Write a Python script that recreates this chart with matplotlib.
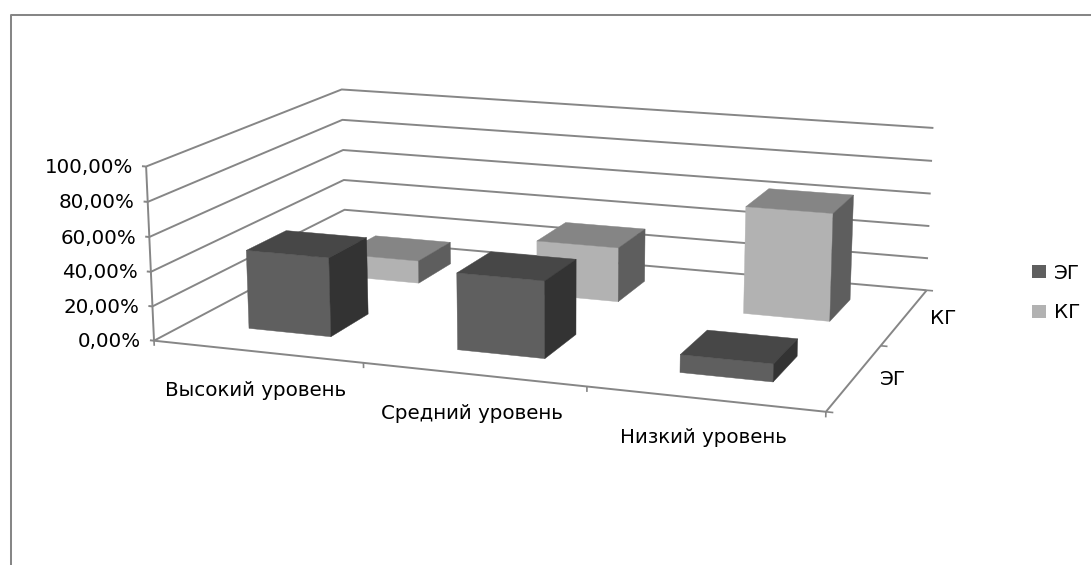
import matplotlib
matplotlib.use('Agg')
import matplotlib.pyplot as plt
import numpy as np
from matplotlib.patches import Patch

categories = ['Высокий уровень', 'Средний уровень', 'Низкий уровень']
series_names = ['ЭГ', 'КГ']
eg_values = [46, 44, 10]
kg_values = [14, 33, 64]
z_ticks = [0, 20, 40, 60, 80, 100]
z_labels = ['0,00%', '20,00%', '40,00%', '60,00%', '80,00%', '100,00%']

# box corners (category, series, percent) and where they sit in the picture
box_world = [(0, 0, 0), (3, 0, 0), (3, 2, 0), (0, 2, 0), (0, 0, 100), (0, 2, 100), (3, 2, 100)]
box_pixel = [(155, 340), (826, 412), (927, 290), (344, 240), (145, 167), (343, 89), (933, 128)]

EG_COLORS = ('#5f5f5f', '#474747', '#333333')
KG_COLORS = ('#b2b2b2', '#858585', '#5e5e5e')
GRID = '#868686'
FONT = 14.3
BAR_W = 0.4
BAR_D = 0.4
W, H = 1091, 565


def fit_camera(world, pixel):
    rows = []
    for (x, y, z), (u, v) in zip(world, pixel):
        z = z / 100
        rows.append([x, y, z, 1, 0, 0, 0, 0, -u * x, -u * y, -u * z, -u])
        rows.append([0, 0, 0, 0, x, y, z, 1, -v * x, -v * y, -v * z, -v])
    return np.linalg.svd(np.array(rows, float))[2][-1].reshape(3, 4)


camera = fit_camera(box_world, box_pixel)


def project(x, y, z):
    p = camera @ [x, y, z / 100, 1]
    return p[0] / p[2], p[1] / p[2]


def line(points, lw=1.4, zo=1):
    xy = np.array([project(*p) for p in points])
    ax.plot(xy[:, 0], xy[:, 1], color=GRID, lw=lw, zorder=zo, solid_capstyle='butt')


def draw_bar(x_mid, y_mid, h, colors, zo):
    x0, x1 = x_mid - BAR_W / 2, x_mid + BAR_W / 2
    y0, y1 = y_mid - BAR_D / 2, y_mid + BAR_D / 2
    faces = [
        [(x0, y0, 0), (x1, y0, 0), (x1, y0, h), (x0, y0, h)],
        [(x0, y0, h), (x1, y0, h), (x1, y1, h), (x0, y1, h)],
        [(x1, y0, 0), (x1, y1, 0), (x1, y1, h), (x1, y0, h)],
    ]
    for face, color in zip(faces, colors):
        xy = np.array([project(*p) for p in face])
        ax.fill(xy[:, 0], xy[:, 1], facecolor=color, edgecolor=color, lw=0.3, zorder=zo)


def label(x, y, z, text, dx, dy, ha):
    ax.annotate(text, project(x, y, z), xytext=(dx, dy), textcoords='offset pixels',
                ha=ha, va='center', fontsize=FONT, color='black')


plt.rcParams['font.family'] = ['DejaVu Sans']
fig = plt.figure(figsize=(W / 100, H / 100), dpi=100)
ax = fig.add_axes([0, 0, 1, 1])
ax.set_xlim(0, W)
ax.set_ylim(H, 0)
ax.set_axis_off()

# outer border: only the top and left edges are in the crop
ax.plot([11, 11, W], [H, 15, 15], color=GRID, lw=1.45)

for z in z_ticks:
    line([(-0.02, 0, z), (0, 0, z), (0, 2, z), (3, 2, z)])
line([(0, 0, 0), (0, 0, 100)])
line([(0, 0, 0), (3, 0, 0), (3, 2, 0)])
for x in range(4):
    line([(x, 0, 0), (x, 0, -3)], lw=1.2)
for y in range(3):
    line([(3, y, 0), (3.03, y, 0)], lw=1.2)

for i in range(3):
    draw_bar(i + 0.5, 1.51, kg_values[i], KG_COLORS, 5 + i)
for i in range(3):
    draw_bar(i + 0.5, 0.52, eg_values[i], EG_COLORS, 10 + i)

for z, text in zip(z_ticks, z_labels):
    label(0, 0, z, text, -13, -1, 'right')
for i, name in enumerate(categories):
    label(i + 0.5, 0, 0, name, -1, -39, 'center')
for i, name in enumerate(series_names):
    label(3, i + 0.5, 0, name, 25, -2, 'left')

handles = [Patch(facecolor=EG_COLORS[0], label=series_names[0]),
           Patch(facecolor=KG_COLORS[0], label=series_names[1])]
fig.legend(handles=handles, loc='center left', bbox_to_anchor=(1032 / W, 1 - 293 / H), frameon=False,
           fontsize=FONT, handlelength=0.72, handleheight=0.62, labelspacing=1.05, handletextpad=0.4,
           borderpad=0, borderaxespad=0)

fig.savefig('out.png', dpi=100)
